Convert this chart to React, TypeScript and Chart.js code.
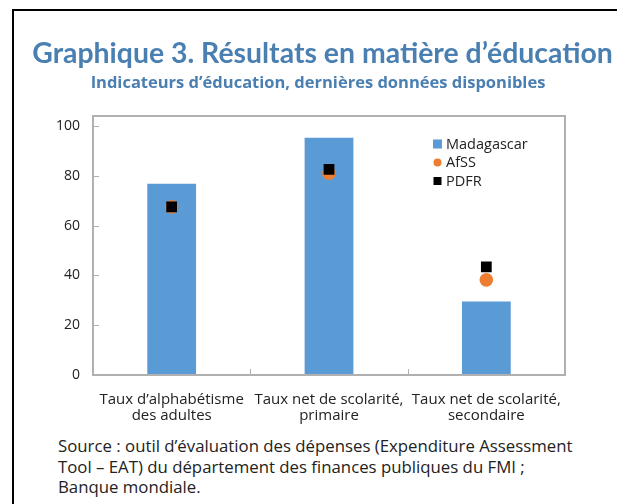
import React, { useEffect, useRef } from "react";
import { Chart, registerables } from "chart.js";

Chart.register(...registerables);

const categories: string[][] = [
  ["Taux d’alphabétisme", "des adultes"],
  ["Taux net de scolarité,", "primaire"],
  ["Taux net de scolarité,", "secondaire"],
];
const madagascar = [76.8, 95.3, 29.5];
const afss = [67.5, 81.0, 38.2];
const pdfr = [67.5, 82.6, 43.4];
const yTicks = [0, 20, 40, 60, 80, 100];
const seriesNames = ["Madagascar", "AfSS", "PDFR"];

const FONT = "'Open Sans', Lato, sans-serif";
const TITLE_FONT = "Lato, 'Open Sans', sans-serif";
const BLUE = "#5b9bd5";
const ORANGE = "#ed7d31";
const FRAME = "#b0b0b0";
const TEXT = "#222222";
const TITLE = "#4a7fb1";

const framePlugin = {
  id: "frame",
  afterDatasetsDraw(chart: any) {
    const { ctx, chartArea } = chart;
    const { left, top, right, bottom } = chartArea;
    ctx.save();
    ctx.strokeStyle = FRAME;
    ctx.lineWidth = 2;
    ctx.strokeRect(left, top, right - left, bottom - top);
    ctx.lineWidth = 1;
    const y = chart.scales.y;
    yTicks.forEach((v) => {
      const py = Math.round(y.getPixelForValue(v)) + 0.5;
      ctx.beginPath();
      ctx.moveTo(left, py);
      ctx.lineTo(left + 6, py);
      ctx.stroke();
    });
    const x = chart.scales.x;
    for (let i = 1; i < categories.length; i++) {
      const px = Math.round((x.getPixelForValue(i - 1) + x.getPixelForValue(i)) / 2) + 0.5;
      ctx.beginPath();
      ctx.moveTo(px, bottom);
      ctx.lineTo(px, bottom - 6);
      ctx.stroke();
    }
    ctx.restore();
  },
};

const legendPlugin = {
  id: "customLegend",
  afterDraw(chart: any) {
    const { ctx } = chart;
    const x0 = 433;
    const ys = [144, 162.5, 181];
    ctx.save();
    ctx.font = `14.5px ${FONT}`;
    ctx.textBaseline = "middle";
    ctx.fillStyle = TEXT;
    chart.data.datasets.forEach((ds: any, i: number) => {
      const y = ys[i];
      if (i === 0) {
        ctx.fillStyle = ds.backgroundColor;
        ctx.fillRect(x0, y - 4.5, 9, 9);
      } else if (ds.pointStyle === "circle") {
        ctx.fillStyle = ds.backgroundColor;
        ctx.beginPath();
        ctx.arc(x0 + 4.5, y, 4, 0, Math.PI * 2);
        ctx.fill();
      } else {
        ctx.fillStyle = ds.backgroundColor;
        ctx.fillRect(x0 + 0.5, y - 4, 8, 8);
      }
      ctx.fillStyle = TEXT;
      ctx.fillText(ds.label, x0 + 13, y + 0.5);
    });
    ctx.restore();
  },
};

function ChartBox() {
  const ref = useRef<HTMLCanvasElement | null>(null);
  useEffect(() => {
    if (!ref.current) return;
    const chart = new Chart(ref.current, {
      type: "bar",
      data: {
        labels: categories,
        datasets: [
          {
            type: "bar",
            label: seriesNames[0],
            data: madagascar,
            backgroundColor: BLUE,
            barPercentage: 1,
            categoryPercentage: 0.31,
            order: 3,
          },
          {
            type: "line",
            label: seriesNames[1],
            data: afss,
            showLine: false,
            pointStyle: "circle",
            pointRadius: 6.8,
            pointBackgroundColor: ORANGE,
            pointBorderWidth: 0,
            backgroundColor: ORANGE,
            borderColor: ORANGE,
            order: 2,
          },
          {
            type: "line",
            label: seriesNames[2],
            data: pdfr,
            showLine: false,
            pointStyle: "rect",
            pointRadius: 7.6,
            pointBackgroundColor: "#000000",
            pointBorderWidth: 0,
            backgroundColor: "#000000",
            borderColor: "#000000",
            order: 1,
          },
        ] as any,
      },
      options: {
        animation: false,
        responsive: false,
        maintainAspectRatio: false,
        layout: { padding: { top: 116, right: 52, bottom: 0, left: 0 } },
        plugins: {
          legend: { display: false },
          tooltip: { enabled: false },
          title: { display: false },
        },
        scales: {
          x: {
            offset: true,
            grid: { display: false, drawTicks: false },
            border: { display: false },
            ticks: {
              color: TEXT,
              font: { family: FONT, size: 15, lineHeight: 1.1 },
              padding: 16,
              maxRotation: 0,
              autoSkip: false,
            },
            afterFit: (s: any) => {
              s.height = 55;
            },
          },
          y: {
            min: 0,
            max: 104,
            grid: { display: false, drawTicks: false },
            border: { display: false },
            ticks: {
              color: TEXT,
              font: { family: FONT, size: 14 },
              padding: 13,
            },
            afterBuildTicks: (s: any) => {
              s.ticks = yTicks.map((v) => ({ value: v }));
            },
            afterFit: (s: any) => {
              s.width = 93;
            },
          },
        },
      } as any,
      plugins: [framePlugin, legendPlugin],
    });
    return () => chart.destroy();
  }, []);
  return (
    <canvas
      ref={ref}
      width={617}
      height={430}
      style={{ position: "absolute", left: 0, top: 0, width: 617, height: 430 }}
    />
  );
}

export default function App() {
  return (
    <div
      style={{
        position: "fixed",
        left: 0,
        top: 0,
        width: 617,
        height: 504,
        overflow: "hidden",
        background: "#ffffff",
        fontFamily: FONT,
      }}
    >
      <div
        style={{
          position: "absolute",
          left: 12,
          top: 9,
          width: 800,
          height: 800,
          borderLeft: "2px solid #000",
          borderTop: "2px solid #000",
        }}
      />
      <ChartBox />
      <div
        style={{
          position: "absolute",
          left: 0,
          width: 645,
          top: 35,
          textAlign: "center",
          whiteSpace: "nowrap",
          color: TITLE,
          fontFamily: TITLE_FONT,
          fontWeight: 700,
          fontSize: 28.4,
          lineHeight: "34px",
        }}
      >
        Graphique 3. Résultats en matière d’éducation
      </div>
      <div
        style={{
          position: "absolute",
          left: 0,
          width: 636,
          top: 72,
          textAlign: "center",
          whiteSpace: "nowrap",
          color: TITLE,
          fontWeight: 700,
          fontSize: 16.5,
          lineHeight: "20px",
        }}
      >
        Indicateurs d’éducation, dernières données disponibles
      </div>
      <div
        style={{
          position: "absolute",
          left: 58,
          top: 436,
          whiteSpace: "nowrap",
          color: TEXT,
          fontSize: 16.8,
          lineHeight: "20.5px",
        }}
      >
        <div>Source : outil d’évaluation des dépenses (Expenditure Assessment</div>
        <div>Tool – EAT) du département des finances publiques du FMI ;</div>
        <div>Banque mondiale.</div>
      </div>
    </div>
  );
}
